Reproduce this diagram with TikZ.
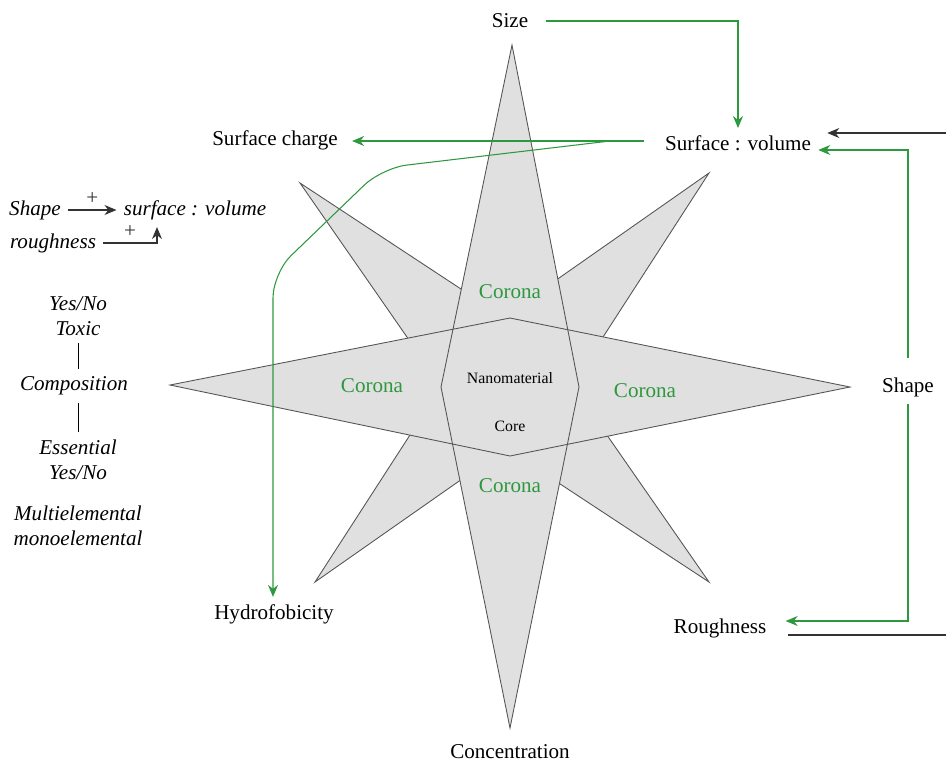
\documentclass[tikz,border=0pt,12pt]{standalone}
\usepackage{fontspec}
\setmainfont{Liberation Serif}
\usetikzlibrary{arrows.meta}
\definecolor{leafgreen}{RGB}{46,152,62}
\definecolor{petalgray}{RGB}{224,224,224}
\definecolor{edgegray}{RGB}{85,85,85}

\begin{document}
\begin{tikzpicture}[x=0.2mm,y=-0.2mm,
  garrow/.style={-{Stealth[length=2.4mm,width=2mm]},leafgreen,line width=0.6pt},
  barrow/.style={-{Stealth[length=2.4mm,width=2mm]},black!80,line width=0.6pt},
  petal/.style={fill=petalgray,draw=edgegray,line width=0.5pt},
  corona/.style={text=leafgreen},
  lbl/.style={font=\itshape,align=center}]
\useasboundingbox (0,0) rectangle (946,761);

\path[petal] (300,183) -- (543,343) -- (709,582) -- (466,422) -- cycle;
\path[petal] (709,173) -- (552,416) -- (315,582) -- (472,339) -- cycle;
\fill[petalgray] (512,45) -- (579,387) -- (510,728) -- (441,387) -- cycle;
\fill[petalgray] (170,385) -- (510,318) -- (850,387) -- (510,456) -- cycle;
\draw[edgegray,line width=0.5pt] (512,45) -- (579,387) -- (510,728) -- (441,387) -- cycle;
\draw[edgegray,line width=0.5pt] (170,385) -- (510,318) -- (850,387) -- (510,456) -- cycle;

\node[corona] (cortop) at (510,292) {Corona};
\node[corona] (corleft) at (372,386) {Corona};
\node[corona] (corright) at (645,391) {Corona};
\node[corona] (corbot) at (510,486) {Corona};
\node[font=\fontsize{9}{11}\selectfont] (nano) at (510,378) {Nanomaterial};
\node[font=\fontsize{9}{11}\selectfont] (core) at (510,426) {Core};

\node (size) at (510,21) {Size};
\node (surfvol) at (738,143) {Surface : volume};
\node (charge) at (275,140) {Surface charge};
\node (shape) at (908,387) {Shape};
\node (rough) at (720,628) {Roughness};
\node (hydro) at (274,614) {Hydrofobicity};
\node (conc) at (510,752) {Concentration};

\coordinate (fork) at (610,141);
\coordinate (bend) at (273,273);
\coordinate (inR) at (946,133);
\coordinate (outR) at (946,635);

\draw[garrow,shorten <=2mm] (size.east) -| (surfvol.north);
\draw[garrow,shorten <=2.8mm,shorten >=1.4mm] (surfvol.west |- fork) -- (charge.east |- fork);
\draw[garrow,rounded corners=5mm] (fork) -- (382,168) -- (bend) -- (bend |- hydro.north);
\draw[garrow,shorten <=2.4mm] (shape.north) |- ([yshift=-1.4mm]surfvol.east);
\draw[garrow,shorten >=2.4mm] (shape.south) |- ([yshift=1.4mm]rough.east);
\draw[barrow,shorten >=1.8mm] (inR) -- (inR -| surfvol.east);
\draw[black!80,line width=0.6pt,shorten >=2.8mm] (outR) -- (outR -| rough.east);

\node[lbl] (lshape) at (35,210) {Shape};
\node[lbl] (lsurf) at (195,210) {surface : volume};
\node[lbl] (lrough) at (53,243) {roughness};
\draw[barrow] (lshape) -- node[above=-1pt,font=\upshape] {+} (lsurf);
\draw[barrow] (lrough) -| node[above=-1pt,pos=0.25,font=\upshape] {+} ([xshift=-7.6mm]lsurf.south);

\node[lbl] (toxic) at (78,316) {Yes/No\\Toxic};
\node[lbl] (comp) at (74,386) {Composition};
\node[lbl] (essen) at (78,460) {Essential\\Yes/No};
\node[lbl] (elem) at (78,526) {Multielemental\\monoelemental};
\draw (toxic.south) -- (toxic.south |- comp.north);
\draw (essen.north) -- (essen.north |- comp.south);
\end{tikzpicture}
\end{document}
